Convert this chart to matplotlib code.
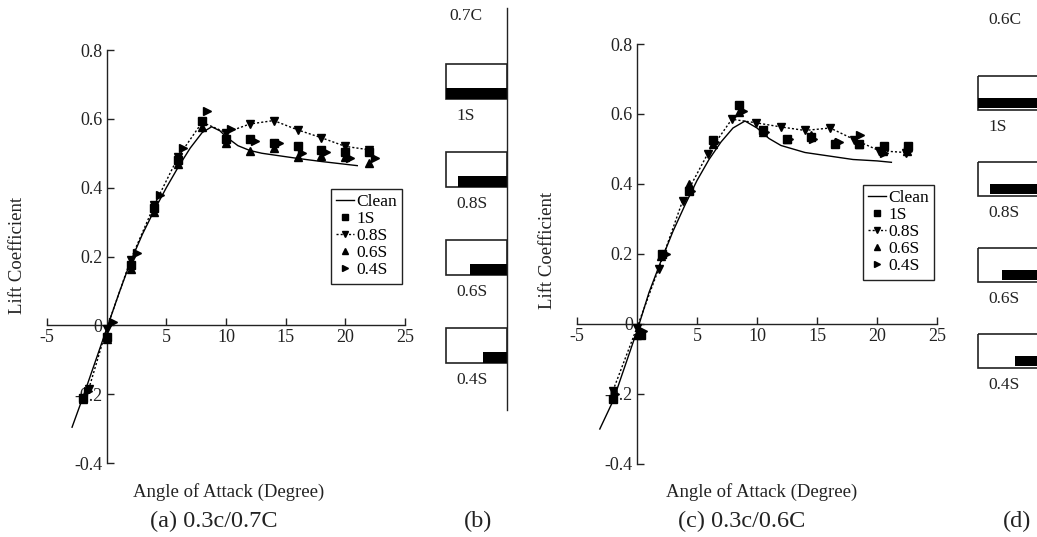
import matplotlib
matplotlib.use("Agg")
import matplotlib.pyplot as plt
from matplotlib.patches import Rectangle
from matplotlib.lines import Line2D

plt.rcParams['font.family'] = ['Liberation Serif', 'DejaVu Serif']
plt.rcParams['axes.unicode_minus'] = False

# ---- panel (a): 0.3c / 0.7C ----
a_clean_x = [-2.9, -2, -1, 0, 1, 2, 3, 4, 5, 6, 7, 8, 8.8, 9.5, 10, 11, 12, 13, 14, 16, 18, 20, 21]
a_clean_y = [-0.296, -0.21, -0.11, -0.01, 0.09, 0.185, 0.265, 0.335, 0.40, 0.46, 0.515, 0.56, 0.577,
             0.565, 0.548, 0.522, 0.508, 0.50, 0.495, 0.485, 0.476, 0.468, 0.464]
a_1s_x = [-2, 0, 2, 4, 6, 8, 10, 12, 14, 16, 18, 20, 22]
a_1s_y = [-0.21, -0.035, 0.175, 0.34, 0.48, 0.595, 0.54, 0.54, 0.53, 0.52, 0.51, 0.505, 0.505]
a_08s_x = [-1.5, 0, 2, 4, 6, 8, 10, 12, 14, 16, 18, 20, 22]
a_08s_y = [-0.185, -0.01, 0.19, 0.35, 0.49, 0.59, 0.56, 0.585, 0.595, 0.568, 0.545, 0.52, 0.51]
a_06s_x = [-2, 0, 2, 4, 6, 8, 10, 12, 14, 16, 18, 20, 22]
a_06s_y = [-0.215, -0.04, 0.165, 0.33, 0.47, 0.575, 0.53, 0.507, 0.515, 0.49, 0.493, 0.49, 0.473]
a_04s_x = [-1.6, 0.5, 2.5, 4.5, 6.4, 8.4, 10.4, 12.4, 14.4, 16.4, 18.4, 20.4, 22.5]
a_04s_y = [-0.19, 0.01, 0.21, 0.38, 0.515, 0.623, 0.57, 0.535, 0.53, 0.50, 0.505, 0.485, 0.485]

# ---- panel (c): 0.3c / 0.6C ----
c_clean_x = [-3.1, -2, -1, 0, 1, 2, 3, 4, 5, 6, 7, 8, 9, 10, 11, 12, 13, 14, 16, 18, 20, 21.2]
c_clean_y = [-0.30, -0.22, -0.12, -0.02, 0.09, 0.18, 0.265, 0.34, 0.41, 0.47, 0.52, 0.56, 0.58,
             0.56, 0.53, 0.51, 0.50, 0.49, 0.48, 0.47, 0.466, 0.462]
c_1s_x = [-2, 0.3, 2.1, 4.3, 6.3, 8.5, 10.5, 12.5, 14.5, 16.5, 18.5, 20.6, 22.6]
c_1s_y = [-0.215, -0.03, 0.2, 0.38, 0.525, 0.625, 0.555, 0.53, 0.535, 0.515, 0.515, 0.51, 0.51]
c_08s_x = [-2, 0, 1.8, 3.8, 5.9, 7.9, 9.9, 12, 14, 16.1, 18.1, 20.2, 22.4]
c_08s_y = [-0.19, -0.01, 0.157, 0.352, 0.487, 0.585, 0.575, 0.563, 0.553, 0.56, 0.527, 0.495, 0.49]
c_06s_x = [-2, 0, 2, 4.3, 6.3, 8.5, 10.5, 12.5, 14.5, 16.5, 18.5, 20.5, 22.5]
c_06s_y = [-0.205, -0.03, 0.195, 0.40, 0.515, 0.605, 0.55, 0.53, 0.54, 0.52, 0.515, 0.495, 0.495]
c_04s_x = [-1.8, 0.5, 2.4, 4.5, 6.5, 8.8, 10.7, 12.7, 14.7, 16.8, 18.6, 20.6, 22.6]
c_04s_y = [-0.2, -0.02, 0.2, 0.38, 0.52, 0.61, 0.55, 0.53, 0.53, 0.52, 0.54, 0.49, 0.495]

x_ticks = [-5, 5, 10, 15, 20, 25]
y_ticks = [0.8, 0.6, 0.4, 0.2, 0, -0.2, -0.4]
y_tick_labels = ["0.8", "0.6", "0.4", "0.2", "0", "-0.2", "-0.4"]
legend_labels = ["Clean", "1S", "0.8S", "0.6S", "0.4S"]

# strip spans (fraction of chord) for the sketches (b) and (d)
strip_spans = [1.0, 0.8, 0.6, 0.4]
strip_labels = ["1S", "0.8S", "0.6S", "0.4S"]

W, H = 1037, 537
fig = plt.figure(figsize=(W / 100, H / 100), dpi=100)
ink = "#222222"


def lift_axes(box_px, clean, s1, s08, s06, s04, leg_px):
    left, top, right, bottom = box_px
    ax = fig.add_axes([left / W, 1 - bottom / H, (right - left) / W, (bottom - top) / H])
    ax.set_xlim(-5, 25)
    ax.set_ylim(-0.4, 0.8)
    for s in ["top", "right"]:
        ax.spines[s].set_visible(False)
    ax.spines["left"].set_position(("data", 0))
    ax.spines["bottom"].set_position(("data", 0))
    for s in ["left", "bottom"]:
        ax.spines[s].set_color(ink)
        ax.spines[s].set_linewidth(1.0)
    ax.set_xticks(x_ticks)
    ax.set_yticks(y_ticks)
    ax.set_yticklabels(y_tick_labels)
    ax.tick_params(direction="in", length=5, width=1, colors=ink, labelsize=13, pad=3)
    ax.patch.set_visible(False)

    ax.plot(clean[0], clean[1], color="black", lw=1.0, zorder=2)
    ax.plot(s08[0], s08[1], ls=(0, (1.5, 1.5)), color="black", lw=1.0, marker="v", ms=6, zorder=3)
    ax.plot(s1[0], s1[1], ls="none", color="black", marker="s", ms=6, zorder=3)
    ax.plot(s06[0], s06[1], ls="none", color="black", marker="^", ms=6, zorder=3)
    ax.plot(s04[0], s04[1], ls="none", color="black", marker=">", ms=6, zorder=3)

    handles = [
        Line2D([], [], color="black", lw=1.0),
        Line2D([], [], ls="none", color="black", marker="s", ms=5),
        Line2D([], [], ls=(0, (1.5, 1.5)), color="black", lw=1.0, marker="v", ms=5),
        Line2D([], [], ls="none", color="black", marker="^", ms=5),
        Line2D([], [], ls="none", color="black", marker=">", ms=5),
    ]
    lx, ly = leg_px
    leg = ax.legend(handles, legend_labels, loc="upper left",
                    bbox_to_anchor=((lx - left) / (right - left), (bottom - ly) / (bottom - top)),
                    borderaxespad=0, fontsize=12.5, handlelength=1.0, handletextpad=0.15,
                    labelspacing=0.05, borderpad=0.3, fancybox=False, framealpha=1)
    leg.get_frame().set_edgecolor(ink)
    leg.get_frame().set_linewidth(1.0)
    return ax


lift_axes((47, 50, 405, 463), (a_clean_x, a_clean_y), (a_1s_x, a_1s_y), (a_08s_x, a_08s_y),
          (a_06s_x, a_06s_y), (a_04s_x, a_04s_y), (331, 189))
lift_axes((577, 44, 937, 464), (c_clean_x, c_clean_y), (c_1s_x, c_1s_y), (c_08s_x, c_08s_y),
          (c_06s_x, c_06s_y), (c_04s_x, c_04s_y), (863, 185))

# overlay in pixel coordinates for labels and the strip sketches
ov = fig.add_axes([0, 0, 1, 1], zorder=-1)
ov.set_xlim(0, W)
ov.set_ylim(H, 0)
ov.axis("off")

ov.text(18, 255, "Lift Coefficient", rotation=90, ha="center", va="center", fontsize=13.5, color=ink)
ov.text(548, 250, "Lift Coefficient", rotation=90, ha="center", va="center", fontsize=13.5, color=ink)
ov.text(229, 492, "Angle of Attack (Degree)", ha="center", va="center", fontsize=13.5, color=ink)
ov.text(762, 492, "Angle of Attack (Degree)", ha="center", va="center", fontsize=13.5, color=ink)

ov.text(214, 521, "(a) 0.3c/0.7C", ha="center", va="center", fontsize=17.5, color=ink)
ov.text(478, 521, "(b)", ha="center", va="center", fontsize=17.5, color=ink)
ov.text(742, 521, "(c) 0.3c/0.6C", ha="center", va="center", fontsize=17.5, color=ink)
ov.text(1017, 521, "(d)", ha="center", va="center", fontsize=17.5, color=ink)


def sketch(x0, width, top0, pitch, rect_h, bar_h, gap, title, title_xy, line=False):
    ov.text(title_xy[0], title_xy[1], title, ha="left", va="center", fontsize=12.5, color=ink)
    if line:
        ov.plot([x0 + width, x0 + width], [8, 410], color=ink, lw=1.0)
    for i, (span, lab) in enumerate(zip(strip_spans, strip_labels)):
        top = top0 + i * pitch
        ov.add_patch(Rectangle((x0, top), width, rect_h, fill=False, ec=ink, lw=1.2))
        bar_w = width * span
        ov.add_patch(Rectangle((x0 + width - bar_w, top + rect_h - gap - bar_h), bar_w, bar_h,
                               fc="black", ec="none"))
        ov.text(x0 + 10, top + rect_h + 17, lab, ha="left", va="center", fontsize=12.5, color=ink)


sketch(446, 61, 64, 88, 35, 11, 0, "0.7C", (449, 16), line=True)
sketch(978, 61, 76, 86, 34, 10, 2, "0.6C", (988, 20))

fig.savefig("out.png", dpi=100)
